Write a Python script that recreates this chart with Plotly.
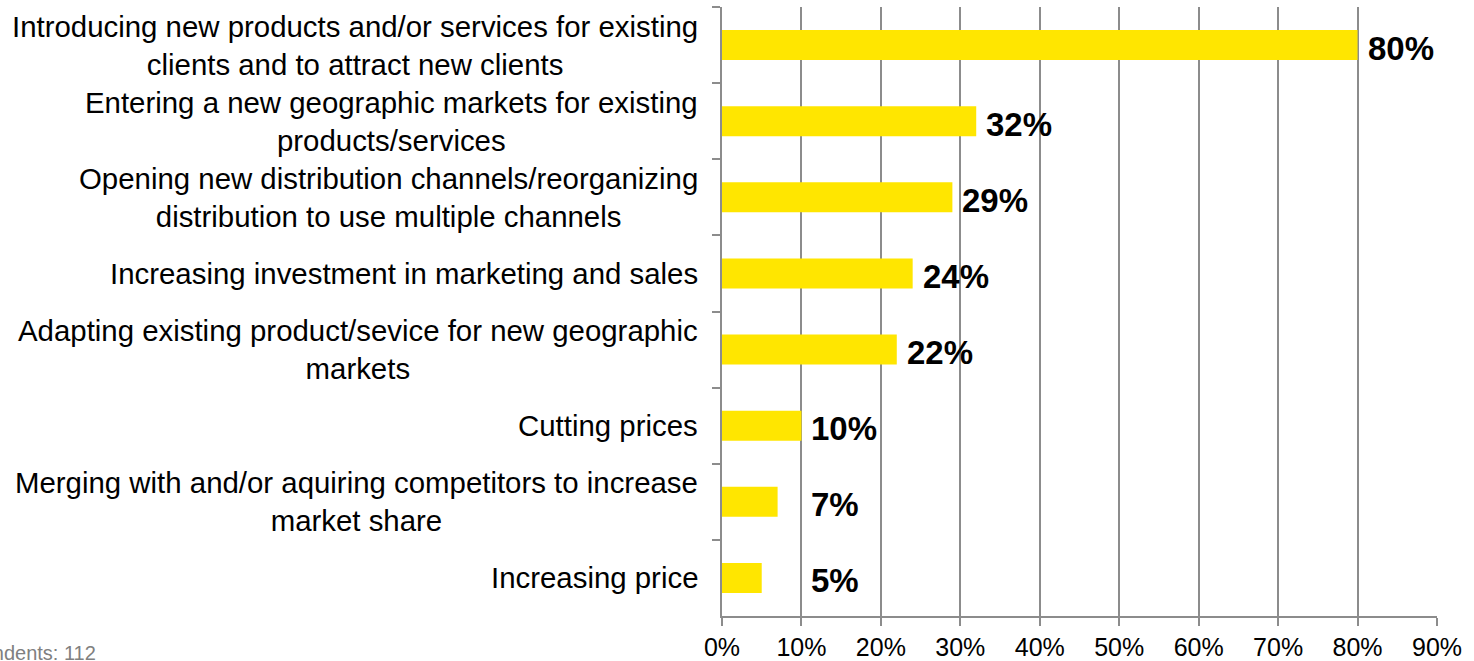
import plotly.graph_objects as go

# Survey results: share of respondents choosing each growth strategy
categories = [
    "Introducing new products and/or services for existing<br>clients and to attract new clients",
    "Entering a new geographic markets for existing<br>products/services",
    "Opening new distribution channels/reorganizing<br>distribution to use multiple channels",
    "Increasing investment in marketing and sales",
    "Adapting existing product/sevice for new geographic<br>markets",
    "Cutting prices",
    "Merging with and/or aquiring competitors to increase<br>market share",
    "Increasing price",
]
values = [80, 32, 29, 24, 22, 10, 7, 5]
x_ticks = [0, 10, 20, 30, 40, 50, 60, 70, 80, 90]
x_tick_labels = [f"{t}%" for t in x_ticks]
respondents = 112

FONT = "Liberation Sans, Arial, sans-serif"
GRID = "#8c8c8c"
YELLOW = "#FFE600"

keys = [f"c{i}" for i in range(len(categories))]

fig = go.Figure(
    go.Bar(
        x=values,
        y=keys,
        orientation="h",
        marker=dict(color=YELLOW, line=dict(width=0)),
        hoverinfo="skip",
    )
)

annotations = []
# Category labels, right-aligned block with centred lines
for k, label in zip(keys, categories):
    annotations.append(dict(
        x=0, xref="paper", y=k, yref="y",
        text=label, showarrow=False,
        xanchor="right", yanchor="middle", align="center",
        xshift=-22,
        font=dict(family=FONT, size=29.4, color="#000000"),
    ))
# Value labels; small bars share a common label column
for k, v in zip(keys, values):
    annotations.append(dict(
        x=max(v, 10), xref="x", y=k, yref="y",
        text=f"<b>{v}%</b>", showarrow=False,
        xanchor="left", yanchor="middle",
        xshift=8, yshift=-3,
        font=dict(family=FONT, size=33, color="#000000"),
    ))
annotations.append(dict(
    x=-1.1035, xref="paper", y=-0.061, yref="paper",
    text=f"Respondents: {respondents}", showarrow=False,
    xanchor="left", yanchor="middle",
    font=dict(family=FONT, size=20, color="#808080"),
))

fig.update_layout(
    width=1474, height=661,
    margin=dict(l=722, r=37, t=7, b=45),
    paper_bgcolor="white", plot_bgcolor="white",
    showlegend=False,
    bargap=0.605,
    annotations=annotations,
    xaxis=dict(
        range=[0, 90],
        automargin=False,
        tickvals=x_ticks, ticktext=x_tick_labels,
        showgrid=True, gridcolor=GRID, gridwidth=1.5,
        zeroline=False,
        showline=True, linecolor=GRID, linewidth=1.5,
        ticks="outside", ticklen=8, tickcolor=GRID, tickwidth=1.5,
        tickfont=dict(family=FONT, size=25, color="#000000"),
        fixedrange=True,
    ),
    yaxis=dict(
        autorange="reversed",
        automargin=False,
        showticklabels=False,
        showgrid=False, zeroline=False,
        showline=True, linecolor=GRID, linewidth=1.5,
        ticks="outside", tickson="boundaries", ticklen=8,
        tickcolor=GRID, tickwidth=1.5,
        fixedrange=True,
    ),
)

fig.write_html("out.html", config={"displayModeBar": False})
